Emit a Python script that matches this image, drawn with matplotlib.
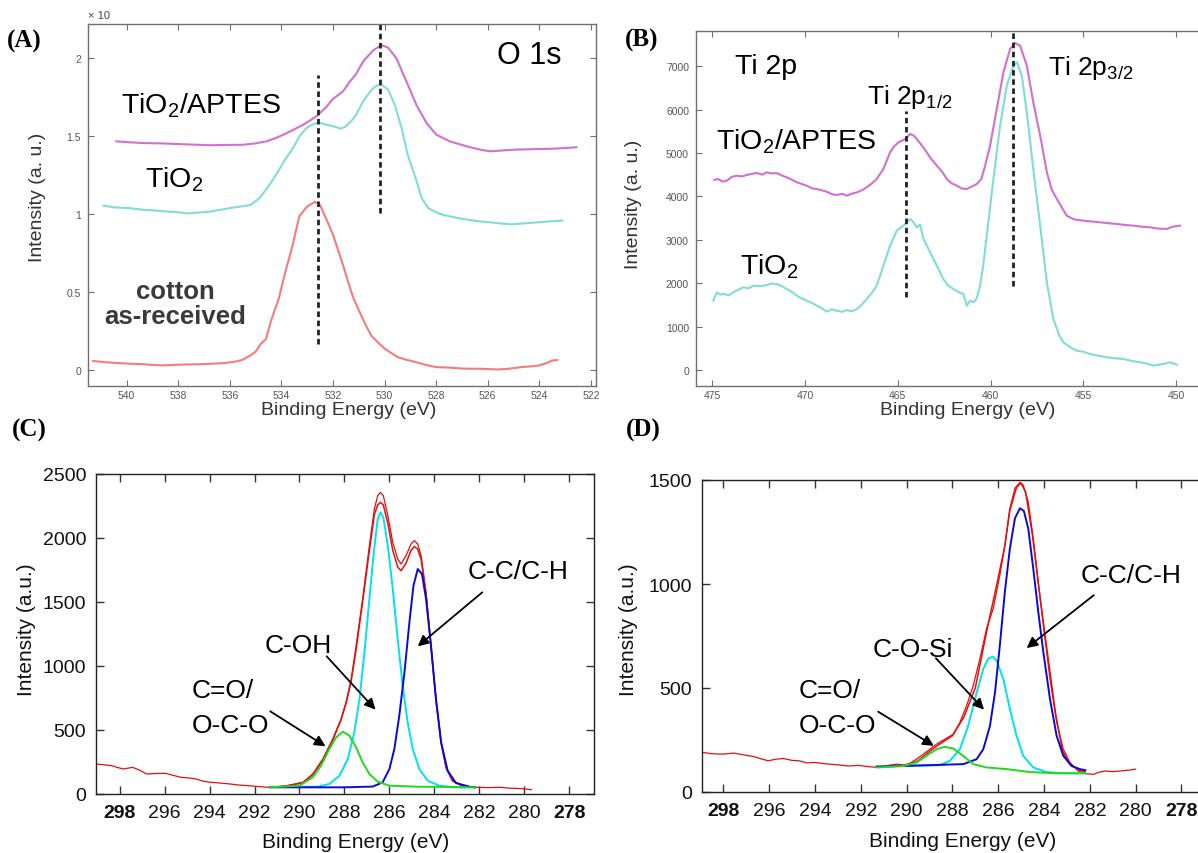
import matplotlib
matplotlib.use("Agg")
import matplotlib.pyplot as plt

plt.rcParams['font.family'] = ['Liberation Sans', 'DejaVu Sans']
plt.rcParams['mathtext.fontset'] = 'custom'
plt.rcParams['mathtext.rm'] = 'Liberation Sans'
plt.rcParams['mathtext.it'] = 'Liberation Sans:italic'
plt.rcParams['mathtext.bf'] = 'Liberation Sans:bold'

NARROW = ['Liberation Sans Narrow', 'Liberation Sans', 'DejaVu Sans']

# ---------------- (A) O 1s  (intensity x10) ----------------
a_cotton_ev = [541.3, 540.8, 540.3, 539.9, 539.4, 538.9, 538.6, 538.1, 537.7, 537.3, 536.8, 536.2,
               535.8, 535.5, 535.2, 535.0, 534.8, 534.6, 534.4, 534.1, 533.85, 533.6, 533.3, 533.0,
               532.7, 532.5, 532.26, 532.0, 531.8, 531.6, 531.4, 531.2, 530.9, 530.7, 530.5, 530.2,
               530.0, 529.5, 529.2, 528.8, 528.4, 528.0, 527.5, 527.0, 526.7, 526.2, 525.6, 525.2,
               524.7, 524.3, 524.0, 523.7, 523.5, 523.3]
a_cotton_int = [0.060, 0.052, 0.047, 0.043, 0.040, 0.034, 0.032, 0.036, 0.038, 0.039, 0.042, 0.047,
                0.056, 0.068, 0.096, 0.120, 0.170, 0.200, 0.320, 0.460, 0.630, 0.780, 0.990, 1.050,
                1.080, 1.060, 0.970, 0.870, 0.770, 0.670, 0.560, 0.460, 0.350, 0.280, 0.220, 0.170,
                0.140, 0.086, 0.070, 0.054, 0.035, 0.021, 0.018, 0.012, 0.011, 0.010, 0.006, 0.010,
                0.021, 0.026, 0.032, 0.048, 0.064, 0.066]

a_tio2_ev = [540.9, 540.5, 539.9, 539.4, 538.9, 538.6, 538.1, 537.6, 537.2, 536.8, 536.4, 536.0,
             535.6, 535.2, 534.84, 534.5, 534.2, 533.9, 533.55, 533.3, 533.03, 532.8, 532.64, 532.5,
             532.25, 532.0, 531.7, 531.5, 531.3, 531.1, 530.83, 530.5, 530.3, 530.12, 529.86, 529.6,
             529.34, 529.1, 528.8, 528.55, 528.3, 528.0, 527.7, 527.4, 527.0, 526.7, 526.3, 525.9,
             525.5, 525.1, 524.6, 524.05, 523.6, 523.1]
a_tio2_int = [1.056, 1.045, 1.040, 1.030, 1.025, 1.020, 1.015, 1.006, 1.012, 1.017, 1.028, 1.040,
              1.050, 1.060, 1.106, 1.180, 1.255, 1.340, 1.425, 1.500, 1.553, 1.575, 1.585, 1.585,
              1.574, 1.565, 1.549, 1.564, 1.596, 1.638, 1.724, 1.800, 1.825, 1.830, 1.800, 1.700,
              1.553, 1.380, 1.234, 1.100, 1.040, 1.013, 0.995, 0.985, 0.972, 0.964, 0.955, 0.949,
              0.942, 0.936, 0.942, 0.949, 0.955, 0.960]

a_aptes_ev = [540.4, 539.9, 539.37, 538.7, 538.07, 537.4, 536.78, 536.1, 535.49, 535.0, 534.58, 534.2,
              533.8, 533.5, 533.16, 532.9, 532.64, 532.3, 532.0, 531.6, 531.35, 531.1, 530.83, 530.45,
              530.12, 529.86, 529.54, 529.15, 528.76, 528.37, 527.99, 527.47, 526.82, 526.3, 525.9,
              525.4, 524.88, 524.2, 523.6, 523.0, 522.56]
a_aptes_int = [1.468, 1.462, 1.457, 1.455, 1.451, 1.447, 1.443, 1.445, 1.446, 1.455, 1.468, 1.490,
               1.520, 1.545, 1.574, 1.600, 1.630, 1.680, 1.740, 1.790, 1.850, 1.900, 1.980, 2.050,
               2.085, 2.068, 2.000, 1.851, 1.700, 1.585, 1.510, 1.468, 1.436, 1.415, 1.404,
               1.410, 1.415, 1.418, 1.420, 1.425, 1.430]

a_xticks = [540, 538, 536, 534, 532, 530, 528, 526, 524, 522]
a_yticks = [0, 0.5, 1, 1.5, 2]
a_ylabels = ['0', '0.5', '1', '1.5', '2']
a_peaks = [532.6, 530.16]

# ---------------- (B) Ti 2p ----------------
b_aptes_ev = [474.9, 474.68, 474.45, 474.22, 473.95, 473.68, 473.4, 473.15, 472.85, 472.6, 472.3, 472.07,
              471.8, 471.53, 471.25, 470.99, 470.7, 470.45, 470.2, 469.91, 469.6, 469.37, 469.1, 468.83,
              468.55, 468.29, 468.0, 467.75, 467.5, 467.2, 466.9, 466.68, 466.4, 466.14, 465.78, 465.42,
              465.2, 464.97, 464.6, 464.34, 464.15, 463.98, 463.7, 463.44, 463.2, 462.9, 462.6, 462.36,
              462.1, 461.82, 461.55, 461.29, 461.0, 460.75, 460.5, 460.3, 460.03, 459.67, 459.31, 458.95,
              458.68, 458.41, 458.05, 457.7, 457.33, 456.97, 456.7, 456.43, 456.1, 455.9, 455.5, 455.0,
              454.5, 454.1, 453.6, 453.2, 452.7, 452.3, 451.8, 451.4, 451.0, 450.5, 450.2, 449.79]
b_aptes_int = [4380, 4401, 4340, 4362, 4450, 4477, 4460, 4493, 4520, 4539, 4500, 4555,
               4530, 4539, 4480, 4440, 4380, 4325, 4290, 4247, 4180, 4171, 4140, 4108,
               4050, 4032, 4060, 4016, 4060, 4094, 4150, 4209, 4300, 4401, 4631, 5016,
               5150, 5246, 5323, 5438, 5400, 5323, 5170, 5016, 4860, 4708, 4560, 4401,
               4300, 4247, 4180, 4171, 4230, 4286, 4400, 4700, 5168, 6014, 6860, 7396,
               7535, 7473, 7012, 6168, 5399, 4555, 4150, 3940, 3700, 3555, 3470, 3440,
               3420, 3403, 3380, 3364, 3340, 3325, 3300, 3288, 3260, 3249, 3300, 3325]

b_tio2_ev = [474.95, 474.76, 474.6, 474.4, 474.1, 473.87, 473.6, 473.33, 473.05, 472.79, 472.4, 472.07,
             471.8, 471.53, 471.25, 470.99, 470.7, 470.45, 470.2, 469.91, 469.6, 469.37, 469.1, 468.83,
             468.55, 468.29, 468.0, 467.75, 467.5, 467.21, 466.95, 466.68, 466.4, 466.14, 465.78, 465.42,
             465.06, 464.7, 464.34, 464.15, 463.98, 463.8, 463.62, 463.26, 462.9, 462.55, 462.3, 462.01,
             461.75, 461.47, 461.29, 461.1, 460.93, 460.75, 460.57, 460.4, 460.21, 459.85, 459.49, 459.13,
             458.77, 458.58, 458.32, 458.05, 457.7, 457.33, 456.97, 456.62, 456.3, 456.08, 455.7, 455.36,
             455.0, 454.64, 454.2, 453.74, 453.3, 452.84, 452.4, 451.94, 451.6, 451.23, 450.95, 450.69,
             450.33, 449.97]
b_tio2_int = [1597, 1790, 1740, 1751, 1720, 1790, 1850, 1906, 1880, 1942, 1930, 1958,
              1990, 1982, 1930, 1866, 1800, 1712, 1650, 1597, 1540, 1482, 1420, 1343,
              1400, 1366, 1340, 1382, 1350, 1405, 1500, 1636, 1780, 1942, 2403, 2864,
              3210, 3325, 3479, 3400, 3288, 3350, 3018, 2712, 2403, 2097, 1950, 1866,
              1800, 1751, 1482, 1600, 1560, 1650, 1942, 2400, 3095, 4401, 5629, 6551,
              7012, 7090, 6781, 5937, 4631, 3325, 2021, 1175, 800, 638, 520, 445,
              420, 369, 330, 293, 270, 253, 210, 177, 150, 99, 120, 138,
              177, 122]

b_xticks = [475, 470, 465, 460, 455, 450]
b_yticks = [0, 1000, 2000, 3000, 4000, 5000, 6000, 7000]
b_peaks = [464.57, 458.77]

# ---------------- (C) C 1s cotton ----------------
c_raw_ev = [299.06, 298.7, 298.36, 297.85, 297.42, 297.1, 296.8, 296.4, 295.96, 295.6, 295.27, 294.9,
            294.6, 294.3, 293.93, 293.5, 293.08, 292.7, 292.28, 291.8, 291.4, 290.9, 290.44, 289.85,
            289.41, 288.96, 288.52, 288.15, 287.93, 287.7, 287.48, 287.19, 286.89, 286.67, 286.52, 286.4,
            286.27, 286.07, 285.85, 285.63, 285.48, 285.26, 285.04, 284.89, 284.74, 284.59, 284.37, 284.15,
            283.93, 283.7, 283.48, 283.19, 282.74, 282.4, 282.07, 281.6, 281.05, 280.7, 280.37, 280.0, 279.69]
c_raw_int = [234, 228, 221, 195, 208, 185, 156, 160, 161, 145, 130, 125,
             117, 100, 91, 85, 78, 70, 65, 58, 52, 55, 70, 91,
             156, 273, 429, 585, 715, 897, 1157, 1521, 1937, 2223, 2327, 2353,
             2327, 2171, 1963, 1833, 1794, 1859, 1950, 1976, 1950, 1859, 1573, 1157,
             741, 403, 208, 104, 65, 55, 52, 50, 52, 46, 44, 40, 34]

c_fit_ev = [291.3, 290.44, 289.85, 289.41, 288.96, 288.52, 288.15, 287.93, 287.7, 287.48, 287.19, 286.89,
            286.67, 286.52, 286.4, 286.27, 286.07, 285.85, 285.63, 285.48, 285.26, 285.04, 284.89, 284.74,
            284.59, 284.37, 284.15, 283.93, 283.7, 283.48, 283.19, 282.74, 282.2]
c_fit_int = [52, 66, 88, 150, 265, 420, 580, 705, 880, 1130, 1500, 1900,
             2180, 2255, 2275, 2255, 2110, 1900, 1770, 1742, 1800, 1900, 1930, 1910,
             1830, 1560, 1150, 740, 400, 205, 100, 62, 52]

c_coh_ev = [291.3, 289.2, 288.67, 288.22, 287.85, 287.56, 287.33, 287.11, 286.89, 286.71, 286.52, 286.4,
            286.27, 286.07, 285.85, 285.63, 285.41, 285.19, 284.96, 284.67, 284.3, 283.78, 283.04, 282.2]
c_coh_int = [55, 57, 78, 143, 273, 481, 741, 1105, 1521, 1859, 2145, 2197,
             2158, 1937, 1599, 1209, 845, 559, 351, 195, 104, 65, 52, 52]

c_cc_ev = [291.3, 288.0, 286.74, 286.3, 286.0, 285.78, 285.56, 285.33, 285.11, 284.93, 284.74, 284.55,
           284.37, 284.15, 283.93, 283.7, 283.41, 283.04, 282.44, 282.2]
c_cc_int = [52, 52, 58, 91, 195, 351, 611, 949, 1339, 1625, 1755, 1716,
            1521, 1157, 741, 403, 182, 86, 57, 52]

c_co_ev = [291.3, 290.0, 289.41, 289.04, 288.67, 288.37, 288.07, 287.78, 287.48, 287.19, 286.89, 286.52,
           286.0, 284.81, 283.33, 282.2]
c_co_int = [52, 65, 130, 221, 351, 442, 486, 455, 364, 247, 156, 96,
            65, 57, 55, 52]

# ---------------- (D) C 1s TiO2/APTES ----------------
d_raw_ev = [298.88, 298.5, 298.04, 297.54, 297.1, 296.7, 296.3, 296.04, 295.7, 295.37, 295.0, 294.7,
            294.35, 294.03, 293.7, 293.37, 292.95, 292.53, 292.1, 291.69, 291.19, 290.8, 290.44, 290.1,
            289.86, 289.56, 289.27, 288.98, 288.69, 288.33, 287.96, 287.67, 287.38, 287.09, 286.8, 286.51,
            286.22, 285.93, 285.71, 285.49, 285.27, 285.05, 284.91, 284.69, 284.47, 284.25, 284.03, 283.74,
            283.45, 283.16, 282.87, 282.51, 282.2, 281.83, 281.6, 281.33, 281.0, 280.66, 280.3, 280.0]
d_raw_int = [190, 184, 182, 187, 178, 171, 158, 150, 158, 161, 152, 150,
             140, 142, 138, 134, 130, 125, 128, 122, 118, 128, 134, 130,
             138, 158, 182, 206, 230, 254, 278, 335, 415, 511, 640, 785,
             881, 1042, 1187, 1364, 1460, 1489, 1476, 1396, 1219, 1010, 801, 544,
             335, 206, 142, 101, 88, 85, 95, 101, 98, 101, 105, 110]

d_fit_ev = [291.3, 290.0, 289.5, 289.0, 288.5, 288.0, 287.5, 287.0, 286.5, 286.0, 285.7, 285.5,
            285.2, 285.0, 284.8, 284.5, 284.25, 284.0, 283.5, 283.2, 282.9, 282.5, 282.2]
d_fit_int = [122, 126, 150, 195, 235, 270, 360, 500, 775, 1030, 1190, 1350,
             1465, 1485, 1440, 1230, 1000, 790, 380, 200, 140, 105, 98]

d_cc_ev = [291.3, 288.98, 287.52, 286.94, 286.65, 286.36, 286.14, 285.93, 285.71, 285.49, 285.27, 285.05,
           284.88, 284.69, 284.47, 284.25, 284.03, 283.74, 283.45, 283.16, 282.8, 282.43, 282.2]
d_cc_int = [122, 129, 134, 158, 206, 318, 479, 704, 962, 1171, 1316, 1364,
            1351, 1267, 1074, 865, 672, 447, 270, 174, 125, 110, 105]

d_cosi_ev = [291.3, 288.55, 288.11, 287.67, 287.31, 286.94, 286.65, 286.44, 286.24, 286.07, 285.78, 285.49,
             285.2, 284.91, 284.47, 283.89, 283.16, 282.2]
d_cosi_int = [122, 129, 150, 206, 318, 479, 592, 640, 651, 632, 544, 399,
              270, 174, 118, 96, 90, 90]

d_co_ev = [291.3, 290.15, 289.56, 289.13, 288.69, 288.33, 287.96, 287.53, 287.09, 286.51, 285.63, 284.62,
           283.45, 282.2]
d_co_int = [118, 125, 142, 174, 206, 217, 209, 174, 134, 118, 110, 96,
            90, 90]

cd_xticks = [298, 296, 294, 292, 290, 288, 286, 284, 282, 280, 278]

W, H = 1198, 854


def box(x0, y0, x1, y1):
    # pixel box (top-left origin) -> figure rect
    return [x0 / W, 1 - y1 / H, (x1 - x0) / W, (y1 - y0) / H]


def fpos(x, y):
    return x / W, 1 - y / H


fig = plt.figure(figsize=(W / 100, H / 100), dpi=100)

MAG = '#d070d0'
TURQ = '#80ddd5'
SALMON = '#f47c7c'
FRAME = '#707070'

# ---- panel A
axA = fig.add_axes(box(88, 25, 596, 387))
axA.plot(a_aptes_ev, a_aptes_int, color=MAG, lw=1.5)
axA.plot(a_tio2_ev, a_tio2_int, color=TURQ, lw=1.5)
axA.plot(a_cotton_ev, a_cotton_int, color=SALMON, lw=1.5)
axA.plot([a_peaks[0], a_peaks[0]], [0.17, 1.89], color='#222222', lw=2, dashes=(2, 1.3))
axA.plot([a_peaks[1], a_peaks[1]], [1.01, 2.3], color='#222222', lw=2, dashes=(2, 1.3))
axA.set_xlim(541.5, 521.8)
axA.set_ylim(-0.1, 2.22)
axA.set_xticks(a_xticks)
axA.set_yticks(a_yticks)
axA.set_yticklabels(a_ylabels)
axA.text(537.13, 1.70, 'TiO$_2$/APTES', fontsize=20.5, ha='center', va='center')
axA.text(538.18, 1.23, 'TiO$_2$', fontsize=20.5, ha='center', va='center')
axA.text(538.1, 0.43, 'cotton\nas-received', fontsize=18.5, fontweight='bold', color='#3a3a3a',
         ha='center', va='center', linespacing=1.05)
axA.text(524.4, 2.02, 'O 1s', fontsize=22, ha='center', va='center')

# ---- panel B
axB = fig.add_axes(box(696, 31.7, 1204, 386.7))
axB.plot(b_aptes_ev, b_aptes_int, color=MAG, lw=1.5)
axB.plot(b_tio2_ev, b_tio2_int, color=TURQ, lw=1.5)
axB.plot([b_peaks[0], b_peaks[0]], [1675, 5975], color='#222222', lw=2, dashes=(2, 1.3))
axB.plot([b_peaks[1], b_peaks[1]], [1942, 8000], color='#222222', lw=2, dashes=(2, 1.3))
axB.set_xlim(475.88, 448.5)
axB.set_ylim(-362, 7818)
axB.set_xticks(b_xticks)
axB.set_yticks(b_yticks)
axB.text(472.1, 7005, 'Ti 2p', fontsize=20.5, ha='center', va='center')
axB.text(464.35, 6313, 'Ti 2p$_{1/2}$', fontsize=19, ha='center', va='center')
axB.text(454.63, 6982, 'Ti 2p$_{3/2}$', fontsize=19, ha='center', va='center')
axB.text(470.5, 5276, 'TiO$_2$/APTES', fontsize=20.5, ha='center', va='center')
axB.text(471.95, 2396, 'TiO$_2$', fontsize=20.5, ha='center', va='center')

for ax in (axA, axB):
    ax.tick_params(direction='in', top=True, right=True, length=4, width=0.8,
                   color=FRAME, labelsize=7.5, labelcolor='#555555', pad=3)
    ax.tick_params(axis='y', pad=5)
    for s in ax.spines.values():
        s.set_color(FRAME)
        s.set_linewidth(1)

fig.text(88 / W, 1 - 16 / H, '\u00d7 10', fontsize=8, color='#444444', ha='left', va='center')
for x, y in [(349, 411), (968, 411)]:
    fig.text(*fpos(x, y), 'Binding Energy (eV)', fontsize=14, color='#333333', ha='center', va='center')
for x, y in [(38, 197), (634, 204)]:
    fig.text(*fpos(x, y), 'Intensity (a. u.)', fontsize=14, color='#333333', rotation=90,
             ha='center', va='center')

# ---- panels C and D
RED = '#e01010'
CYAN = '#00e0ee'
BLUE = '#0a0ad0'
GREEN = '#20d820'
ARW = dict(arrowstyle='-|>', color='black', lw=1.3, mutation_scale=16, shrinkA=0, shrinkB=0)

axC = fig.add_axes(box(96, 474.5, 594, 795))
axC.plot(c_raw_ev, c_raw_int, color=RED, lw=0.9)
axC.plot(c_fit_ev, c_fit_int, color=RED, lw=1.1)
axC.plot(c_coh_ev, c_coh_int, color=CYAN, lw=1.4)
axC.plot(c_cc_ev, c_cc_int, color=BLUE, lw=1.4)
axC.plot(c_co_ev, c_co_int, color=GREEN, lw=1.4)
axC.set_xlim(299.05, 276.9)
axC.set_ylim(0, 2500)
axC.set_yticks([0, 500, 1000, 1500, 2000, 2500])
axC.text(282.5, 1742, 'C-C/C-H', fontsize=19, family=NARROW, ha='left', va='center')
axC.annotate('', xy=(284.74, 1152), xytext=(281.87, 1573), arrowprops=ARW)
axC.text(291.56, 1162, 'C-OH', fontsize=19, family=NARROW, ha='left', va='center')
axC.annotate('', xy=(286.62, 658), xytext=(288.79, 1074), arrowprops=ARW)
axC.text(294.8, 813, 'C=O/', fontsize=19, family=NARROW, ha='left', va='center')
axC.text(294.8, 538, 'O-C-O', fontsize=19, family=NARROW, ha='left', va='center')
axC.annotate('', xy=(288.84, 372), xytext=(291.3, 645), arrowprops=ARW)

axD = fig.add_axes(box(702, 481, 1206, 793))
axD.plot(d_raw_ev, d_raw_int, color=RED, lw=0.9)
axD.plot(d_fit_ev, d_fit_int, color=RED, lw=1.1)
axD.plot(d_cosi_ev, d_cosi_int, color=CYAN, lw=1.4)
axD.plot(d_cc_ev, d_cc_int, color=BLUE, lw=1.4)
axD.plot(d_co_ev, d_co_int, color=GREEN, lw=1.4)
axD.set_xlim(298.93, 276.93)
axD.set_ylim(0, 1500)
axD.set_yticks([0, 500, 1000, 1500])
axD.text(282.42, 1042, 'C-C/C-H', fontsize=19, family=NARROW, ha='left', va='center')
axD.annotate('', xy=(284.76, 692), xytext=(281.83, 946), arrowprops=ARW)
axD.text(291.49, 688, 'C-O-Si', fontsize=19, family=NARROW, ha='left', va='center')
axD.annotate('', xy=(286.62, 396), xytext=(288.72, 643), arrowprops=ARW)
axD.text(294.7, 492, 'C=O/', fontsize=19, family=NARROW, ha='left', va='center')
axD.text(294.7, 322, 'O-C-O', fontsize=19, family=NARROW, ha='left', va='center')
axD.annotate('', xy=(288.81, 222), xytext=(291.24, 386), arrowprops=ARW)

for ax in (axC, axD):
    ax.set_xticks(cd_xticks)
    ax.set_xticklabels([str(t) for t in cd_xticks])
    ax.tick_params(direction='in', top=True, right=True, length=6, width=1, color='#333333',
                   labelsize=14, labelcolor='#111111', pad=7)
    for lab in ax.get_xticklabels() + ax.get_yticklabels():
        lab.set_family(NARROW)
    for lab in (ax.get_xticklabels()[0], ax.get_xticklabels()[-1]):
        lab.set_fontweight('bold')
    for s in ax.spines.values():
        s.set_color('#222222')
        s.set_linewidth(1)

for x, y in [(356, 843), (963, 842)]:
    fig.text(*fpos(x, y), 'Binding Energy (eV)', fontsize=15, color='#111111', ha='center', va='center')
for x, y in [(27, 630), (628, 630)]:
    fig.text(*fpos(x, y), 'Intensity (a.u.)', fontsize=15, color='#111111', rotation=90,
             ha='center', va='center')

# panel letters
for lab, x, y in [('(A)', 24, 41), ('(B)', 642, 40), ('(C)', 29, 430), ('(D)', 643, 430)]:
    fig.text(*fpos(x, y), lab, fontsize=18, fontweight='bold', family='Liberation Serif',
             ha='center', va='center')

fig.savefig('out.png', dpi=100, facecolor='white')
